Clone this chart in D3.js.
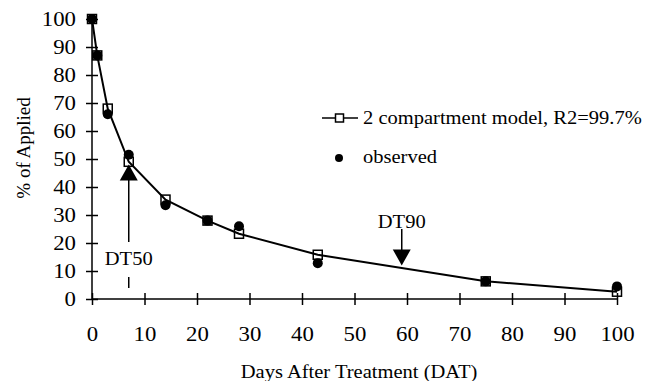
<!DOCTYPE html>
<html>
<head>
<meta charset="utf-8">
<script src="https://cdn.jsdelivr.net/npm/d3@7"></script>
<style>
  body { margin: 0; background: #fff; }
  text { font-family: "Liberation Serif", "Times New Roman", serif; fill: #000; }
</style>
</head>
<body>
<div id="chart"></div>
<script>
const wh = 645,
    ht = 381;

// days after treatment
const days = [0, 1, 3, 7, 14, 22, 28, 43, 75, 100];
// 2 compartment model fit
const model = [100, 87, 68, 49, 35.5, 28, 23.3, 15.8, 6.3, 2.6];
// observed residues
const observed = [100, 87, 66, 51.5, 33.5, 28, 26, 12.8, 6.3, 4.5];

const xTicks = [0, 10, 20, 30, 40, 50, 60, 70, 80, 90, 100];
const yTicks = [0, 10, 20, 30, 40, 50, 60, 70, 80, 90, 100];

// DT50 / DT90 markers (day, % applied at arrow tip)
const dtLabels = ["DT50", "DT90"];
const dtDays = [7, 59];
const dtTips = [48, 12];

const svg = d3.select("#chart")
    .append("svg")
    .attr("width", wh)
    .attr("height", ht)

// the scanned figure is a bit wider than tall, so stretch text sideways
function stretch(sel) {
    sel.each(function() {
        var w = this.getComputedTextLength()
        d3.select(this)
            .attr("textLength", w * 1.14)
            .attr("lengthAdjust", "spacingAndGlyphs")
    })
}

const x = d3.scaleLinear()
    .domain([0, 100])
    .range([92, 617])

const y = d3.scaleLinear()
    .domain([0, 100])
    .range([299, 19])

// axes with ticks crossing the line
const yAxis = svg.append("g")
    .attr("transform", "translate(" + x(0) + ",0)")
    .call(d3.axisLeft(y).tickValues(yTicks).tickSize(6).tickPadding(10))
yAxis.selectAll(".tick line").attr("x1", 6)
yAxis.select(".domain").attr("d", "M0," + y(0) + "V" + y(100))

const xAxis = svg.append("g")
    .attr("transform", "translate(0," + y(0) + ")")
    .call(d3.axisBottom(x).tickValues(xTicks).tickSize(6).tickPadding(22))
xAxis.selectAll(".tick line").attr("y1", -6)
xAxis.select(".domain").attr("d", "M" + x(0) + ",0H" + x(100))

svg.selectAll(".domain, .tick line")
    .attr("stroke", "#000")
    .attr("stroke-width", 1.5)
svg.selectAll(".tick text")
    .style("font-size", "20px")
    .style("font-family", "Liberation Serif, serif")
    .call(stretch)

// axis titles
svg.append("text")
    .attr("x", 359)
    .attr("y", 378)
    .attr("text-anchor", "middle")
    .style("font-size", "18px")
    .text("Days After Treatment (DAT)")
    .call(stretch)

svg.append("text")
    .attr("transform", "translate(30,148) rotate(-90)")
    .attr("text-anchor", "middle")
    .style("font-size", "19px")
    .text("% of Applied")

// model curve
const line = d3.line()
    .x(function(d, i) { return x(days[i]) })
    .y(function(d) { return y(d) })

svg.append("path")
    .datum(model)
    .attr("d", line)
    .attr("fill", "none")
    .attr("stroke", "#000")
    .attr("stroke-width", 2)

// observed points
svg.selectAll(".obs")
    .data(observed)
    .enter()
    .append("circle")
    .attr("class", "obs")
    .attr("cx", function(d, i) { return x(days[i]) })
    .attr("cy", function(d) { return y(d) })
    .attr("r", 5)
    .attr("fill", "#000")

// model points
svg.selectAll(".mod")
    .data(model)
    .enter()
    .append("rect")
    .attr("class", "mod")
    .attr("x", function(d, i) { return x(days[i]) - 4.5 })
    .attr("y", function(d) { return y(d) - 4.5 })
    .attr("width", 9)
    .attr("height", 9)
    .attr("fill", "none")
    .attr("stroke", "#000")
    .attr("stroke-width", 1.5)

// DT50 arrow (points up)
const d50x = x(dtDays[0]),
    d50tip = y(dtTips[0]);
svg.append("path")
    .attr("d", "M" + d50x + "," + d50tip + "l-9,16h18z")
    .attr("fill", "#000")
svg.append("line")
    .attr("x1", d50x).attr("x2", d50x)
    .attr("y1", d50tip + 15).attr("y2", 242)
    .attr("stroke", "#000").attr("stroke-width", 1.5)
svg.append("text")
    .attr("x", d50x)
    .attr("y", 265)
    .attr("text-anchor", "middle")
    .style("font-size", "18px")
    .text(dtLabels[0])
    .call(stretch)
svg.append("line")
    .attr("x1", d50x).attr("x2", d50x)
    .attr("y1", 277).attr("y2", 288)
    .attr("stroke", "#000").attr("stroke-width", 1.5)

// DT90 arrow (points down)
const d90x = x(dtDays[1]),
    d90tip = y(dtTips[1]);
svg.append("path")
    .attr("d", "M" + d90x + "," + d90tip + "l-9,-16h18z")
    .attr("fill", "#000")
svg.append("line")
    .attr("x1", d90x).attr("x2", d90x)
    .attr("y1", 229).attr("y2", d90tip - 15)
    .attr("stroke", "#000").attr("stroke-width", 1.5)
svg.append("text")
    .attr("x", d90x)
    .attr("y", 228)
    .attr("text-anchor", "middle")
    .style("font-size", "18px")
    .text(dtLabels[1])
    .call(stretch)

// legend
const legend = svg.append("g")
legend.append("line")
    .attr("x1", 322).attr("x2", 358)
    .attr("y1", 118).attr("y2", 118)
    .attr("stroke", "#000").attr("stroke-width", 1.5)
legend.append("rect")
    .attr("x", 335.5).attr("y", 114)
    .attr("width", 8).attr("height", 8)
    .attr("fill", "#fff")
    .attr("stroke", "#000").attr("stroke-width", 1.5)
legend.append("text")
    .attr("x", 363).attr("y", 124)
    .style("font-size", "18px")
    .text("2 compartment model,  R2=99.7%")
    .call(stretch)
legend.append("circle")
    .attr("cx", 339).attr("cy", 158)
    .attr("r", 4)
    .attr("fill", "#000")
legend.append("text")
    .attr("x", 363).attr("y", 163)
    .style("font-size", "18px")
    .text("observed")
    .call(stretch)
</script>
</body>
</html>
